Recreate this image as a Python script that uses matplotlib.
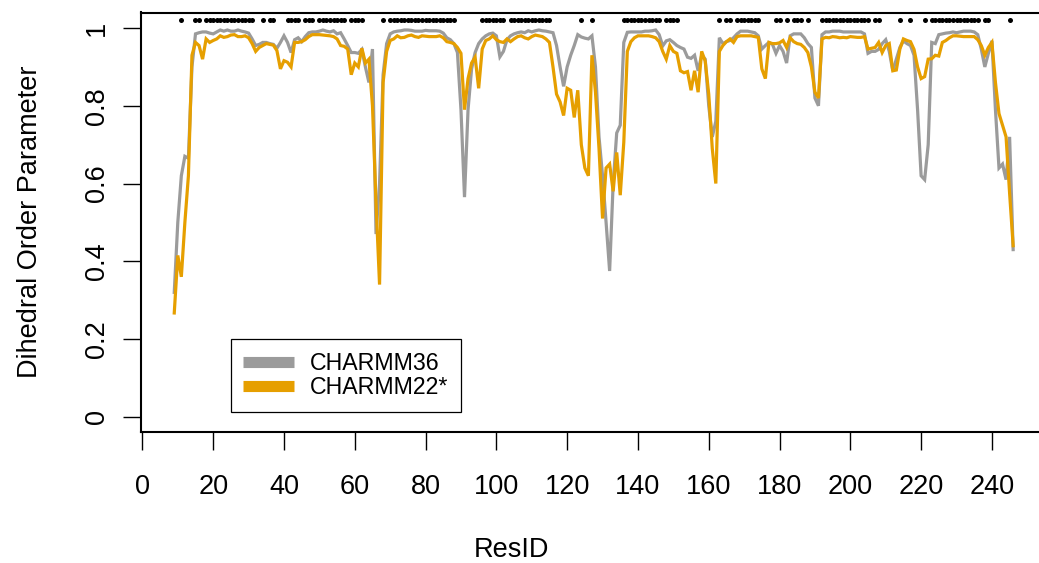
import numpy as np
import matplotlib
matplotlib.use('Agg')
import matplotlib.pyplot as plt
from matplotlib.lines import Line2D

plt.rcParams['font.family'] = ['Liberation Sans', 'DejaVu Sans']

# dihedral order parameter per residue, residues 9..246
first_res = 9
charmm36 = [
    0.32, 0.50, 0.62, 0.67, 0.665, 0.90, 0.985, 0.988, 0.99, 0.99,
    0.987, 0.985, 0.99, 0.995, 0.992, 0.995, 0.992, 0.992, 0.995, 0.992,
    0.99, 0.987, 0.972, 0.955, 0.958, 0.963, 0.963, 0.96, 0.958, 0.948,
    0.963, 0.98, 0.963, 0.937, 0.97, 0.975, 0.965, 0.978, 0.988, 0.99,
    0.99, 0.992, 0.995, 0.992, 0.99, 0.993, 0.985, 0.988, 0.972, 0.955,
    0.937, 0.937, 0.935, 0.945, 0.90, 0.86, 0.946, 0.47, 0.60, 0.88,
    0.96, 0.985, 0.99, 0.992, 0.993, 0.995, 0.995, 0.994, 0.992, 0.992,
    0.992, 0.994, 0.993, 0.993, 0.993, 0.992, 0.987, 0.975, 0.97, 0.96,
    0.937, 0.79, 0.565, 0.79, 0.895, 0.937, 0.96, 0.972, 0.98, 0.985,
    0.987, 0.98, 0.926, 0.94, 0.97, 0.98, 0.985, 0.988, 0.99, 0.988,
    0.993, 0.99, 0.993, 0.995, 0.993, 0.992, 0.99, 0.988, 0.955, 0.90,
    0.85, 0.90, 0.93, 0.955, 0.983, 0.977, 0.974, 0.972, 0.98, 0.90,
    0.72, 0.62, 0.50, 0.375, 0.60, 0.73, 0.75, 0.963, 0.989, 0.99,
    0.99, 0.99, 0.99, 0.992, 0.992, 0.993, 0.995, 0.983, 0.954, 0.967,
    0.97, 0.963, 0.955, 0.95, 0.946, 0.925, 0.922, 0.93, 0.89, 0.93,
    0.92, 0.80, 0.72, 0.76, 0.975, 0.96, 0.965, 0.968, 0.975, 0.985,
    0.992, 0.992, 0.992, 0.99, 0.988, 0.98, 0.946, 0.955, 0.963, 0.958,
    0.935, 0.955, 0.94, 0.91, 0.98, 0.985, 0.985, 0.985, 0.975, 0.96,
    0.95, 0.82, 0.80, 0.983, 0.99, 0.99, 0.992, 0.992, 0.992, 0.99,
    0.99, 0.99, 0.99, 0.99, 0.99, 0.985, 0.935, 0.94, 0.94, 0.945,
    0.96, 0.97, 0.94, 0.89, 0.92, 0.95, 0.967, 0.96, 0.955, 0.93,
    0.79, 0.62, 0.61, 0.70, 0.963, 0.96, 0.983, 0.985, 0.987, 0.988,
    0.99, 0.988, 0.99, 0.992, 0.992, 0.992, 0.99, 0.983, 0.946, 0.90,
    0.935, 0.967, 0.79, 0.64, 0.65, 0.61, 0.72, 0.43,
]
charmm22s = [
    0.267, 0.415, 0.36, 0.50, 0.62, 0.93, 0.963, 0.955, 0.92, 0.972,
    0.963, 0.968, 0.972, 0.98, 0.976, 0.978, 0.982, 0.983, 0.978, 0.978,
    0.98, 0.975, 0.96, 0.94, 0.95, 0.955, 0.96, 0.958, 0.956, 0.942,
    0.895, 0.916, 0.912, 0.90, 0.963, 0.963, 0.965, 0.97, 0.978, 0.983,
    0.983, 0.983, 0.982, 0.981, 0.98, 0.978, 0.972, 0.955, 0.953, 0.946,
    0.88, 0.91, 0.90, 0.948, 0.91, 0.92, 0.80, 0.55, 0.34, 0.86,
    0.94, 0.968, 0.972, 0.98, 0.975, 0.976, 0.98, 0.982, 0.978, 0.976,
    0.98, 0.979, 0.978, 0.978, 0.978, 0.98, 0.975, 0.965, 0.963, 0.96,
    0.95, 0.935, 0.79, 0.87, 0.91, 0.925, 0.845, 0.946, 0.968, 0.972,
    0.98, 0.97, 0.965, 0.963, 0.972, 0.965, 0.972, 0.978, 0.98, 0.975,
    0.972, 0.978, 0.982, 0.98, 0.978, 0.972, 0.963, 0.90, 0.83, 0.81,
    0.775, 0.845, 0.84, 0.77, 0.84, 0.70, 0.64, 0.62, 0.93, 0.835,
    0.69, 0.51, 0.64, 0.65, 0.58, 0.68, 0.57, 0.706, 0.94, 0.965,
    0.975, 0.98, 0.98, 0.98, 0.98, 0.978, 0.975, 0.965, 0.94, 0.92,
    0.955, 0.94, 0.935, 0.89, 0.885, 0.888, 0.84, 0.89, 0.835, 0.94,
    0.915, 0.83, 0.69, 0.60, 0.94, 0.955, 0.965, 0.972, 0.963, 0.978,
    0.98, 0.98, 0.98, 0.98, 0.978, 0.976, 0.895, 0.87, 0.963, 0.96,
    0.96, 0.962, 0.968, 0.95, 0.975, 0.965, 0.96, 0.958, 0.95, 0.937,
    0.90, 0.835, 0.82, 0.972, 0.976, 0.975, 0.978, 0.977, 0.975, 0.976,
    0.975, 0.978, 0.977, 0.976, 0.976, 0.978, 0.946, 0.948, 0.95, 0.963,
    0.937, 0.955, 0.96, 0.89, 0.892, 0.946, 0.972, 0.968, 0.965, 0.945,
    0.90, 0.87, 0.875, 0.92, 0.921, 0.93, 0.928, 0.963, 0.968, 0.975,
    0.98, 0.98, 0.979, 0.978, 0.978, 0.978, 0.978, 0.97, 0.955, 0.93,
    0.95, 0.963, 0.86, 0.78, 0.75, 0.72, 0.575, 0.44,
]

# runs of residues marked with a dot above the curves (first, last)
marked_runs = [
    (11, 11), (15, 16), (18, 31), (34, 34), (36, 37), (41, 44), (46, 48),
    (50, 57), (59, 62), (68, 68), (70, 88), (96, 102), (104, 115),
    (124, 124), (127, 127), (136, 146), (148, 151), (163, 163), (165, 166),
    (168, 174), (179, 180), (182, 182), (184, 186), (188, 188), (192, 205),
    (207, 208), (214, 214), (217, 217), (221, 221), (223, 236), (238, 239),
    (245, 245),
]
dot_level = 1.02

xticks = list(range(0, 241, 20))
yticks = [0, 0.2, 0.4, 0.6, 0.8, 1.0]
yticklabels = ['0', '0.2', '0.4', '0.6', '0.8', '1']

gray = '#9b9b9b'
orange = '#e69f00'

resid = np.arange(first_res, first_res + len(charmm36))
marked = np.concatenate([np.arange(a, b + 1) for a, b in marked_runs])

fig = plt.figure(figsize=(10.39, 5.63), dpi=100)
W, H = 1039.0, 563.0
# plot box in pixels: left 140.7, bottom 432.3, top 12.5; x runs past the right edge
ax = fig.add_axes([140.7 / W, (H - 432.3) / H, 906.0 / W, (432.3 - 12.5) / H])

ax.plot(resid, charmm36, color=gray, lw=2.3, solid_joinstyle='miter')
ax.plot(resid, charmm22s, color=orange, lw=2.3, solid_joinstyle='miter')
ax.plot(marked, np.full(len(marked), dot_level), 'o', color='black',
        ms=3.6, mec='none')

ax.set_xlim(-0.48, 255.48)
ax.set_ylim(-0.04, 1.04)
ax.set_xticks(xticks)
ax.set_yticks(yticks)
ax.set_yticklabels(yticklabels)

for sp in ax.spines.values():
    sp.set_linewidth(1.5)
ax.tick_params(axis='both', direction='out', length=13, width=1.0,
               labelsize=19.5, color='black')
ax.tick_params(axis='x', pad=17)
ax.tick_params(axis='y', pad=9, labelrotation=90)
for lab in ax.get_yticklabels():
    lab.set_va('center')

fig.text(511 / W, 1 - 550 / H, 'ResID', fontsize=19.5, ha='center', va='center')
fig.text(30 / W, 1 - 222 / H, 'Dihedral Order Parameter', fontsize=19.5,
         rotation=90, ha='center', va='center')

handles = [Line2D([], [], color=gray, lw=8, solid_capstyle='butt'),
           Line2D([], [], color=orange, lw=8, solid_capstyle='butt')]
leg = ax.legend(handles, ['CHARMM36', 'CHARMM22*'], loc='upper left',
                bbox_to_anchor=(230.7 / W, 1 - 339 / H),
                bbox_transform=fig.transFigure, fontsize=16.7,
                frameon=True, fancybox=False, framealpha=1,
                edgecolor='black', borderpad=0.55, labelspacing=0.05,
                handlelength=2.2, handletextpad=0.65, borderaxespad=0)
leg.get_frame().set_linewidth(0.9)

fig.savefig('out.png', dpi=100)
